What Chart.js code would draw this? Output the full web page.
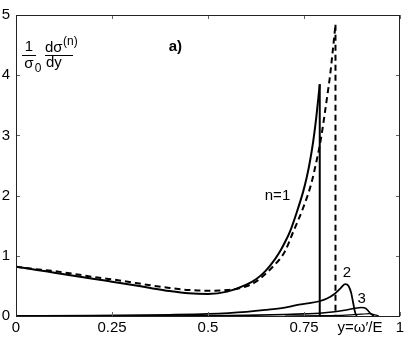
<!DOCTYPE html>
<html>
<head>
<meta charset="utf-8">
<script src="https://cdn.jsdelivr.net/npm/chart.js@4.4.0/dist/chart.umd.min.js"></script>
<style>
html,body{margin:0;padding:0;background:#fff;}
canvas{display:block;}
</style>
</head>
<body>
<canvas id="c" width="410" height="338"></canvas>
<script>
// ---- data ----
const xTicks = [0, 0.25, 0.5, 0.75, 1];
const xTickLabels = ['0', '0.25', '0.5', '0.75', '1'];
const yTicks = [0, 1, 2, 3, 4, 5];

// n=1, solid
const n1X = [0, 0.05, 0.1, 0.15, 0.2, 0.25, 0.3, 0.35, 0.4, 0.45, 0.5, 0.55, 0.6, 0.625, 0.65, 0.675, 0.69, 0.7, 0.714, 0.731, 0.748, 0.757, 0.765, 0.774, 0.782, 0.791];
const n1Y = [0.82, 0.77, 0.72, 0.67, 0.62, 0.57, 0.52, 0.465, 0.415, 0.378, 0.367, 0.405, 0.52, 0.61, 0.75, 0.95, 1.1, 1.22, 1.41, 1.72, 2.07, 2.3, 2.55, 2.9, 3.3, 3.85];
const n1Edge = 0.791;   // vertical cut-off of the n=1 curve
const n1Peak = 3.85;

// n=1 approximation, dashed
const dX = [0, 0.05, 0.1, 0.15, 0.2, 0.25, 0.3, 0.35, 0.4, 0.45, 0.5, 0.55, 0.6, 0.625, 0.65, 0.675, 0.6875, 0.7, 0.722, 0.748, 0.769, 0.78, 0.79, 0.798, 0.806, 0.812, 0.818, 0.824, 0.832];
const dY = [0.82, 0.78, 0.745, 0.70, 0.65, 0.61, 0.56, 0.51, 0.465, 0.432, 0.42, 0.43, 0.495, 0.57, 0.7, 0.86, 0.95, 1.07, 1.4, 1.8, 2.2, 2.5, 2.8, 3.1, 3.45, 3.72, 4.0, 4.35, 4.84];
const dEdge = 0.832;
const dPeak = 4.84;

// n=2
const n2X = [0, 0.2, 0.4, 0.5, 0.6, 0.65, 0.7, 0.73, 0.76, 0.79, 0.81, 0.83, 0.845, 0.857, 0.866, 0.873, 0.878, 0.883, 0.887];
const n2Y = [0, 0.005, 0.02, 0.035, 0.07, 0.1, 0.14, 0.18, 0.21, 0.245, 0.29, 0.37, 0.46, 0.53, 0.5, 0.38, 0.22, 0.06, 0];

// n=3
const n3X = [0, 0.5, 0.6, 0.7, 0.75, 0.79, 0.83, 0.86, 0.88, 0.9, 0.91, 0.918, 0.925, 0.932];
const n3Y = [0, 0.005, 0.01, 0.025, 0.035, 0.045, 0.07, 0.1, 0.125, 0.14, 0.13, 0.08, 0.03, 0];

// n=4
const n4X = [0.7, 0.8, 0.86, 0.9, 0.92, 0.935, 0.945];
const n4Y = [0, 0.005, 0.015, 0.03, 0.038, 0.02, 0];

const toPts = (xs, ys) => xs.map((x, i) => ({x: x, y: ys[i]}));

const FONT = '"Liberation Sans", Arial, Helvetica, sans-serif';

const decor = {
  id: 'decor',
  afterDraw(chart) {
    const ctx = chart.ctx;
    const a = chart.chartArea;
    const xs = chart.scales.x, ys = chart.scales.y;
    ctx.save();
    // inward ticks on all sides
    ctx.strokeStyle = '#666';
    ctx.lineWidth = 1;
    const L = 4;
    ctx.beginPath();
    xTicks.forEach(v => {
      const p = Math.round(xs.getPixelForValue(v)) + 0.5;
      ctx.moveTo(p, a.bottom); ctx.lineTo(p, a.bottom - L);
      ctx.moveTo(p, a.top); ctx.lineTo(p, a.top + L);
    });
    yTicks.forEach(v => {
      const p = Math.round(ys.getPixelForValue(v)) + 0.5;
      ctx.moveTo(a.left, p); ctx.lineTo(a.left + L, p);
      ctx.moveTo(a.right, p); ctx.lineTo(a.right - L, p);
    });
    ctx.stroke();
    // frame
    ctx.strokeStyle = '#222';
    ctx.strokeRect(Math.round(a.left) + 0.5, Math.round(a.top) + 0.5,
                   Math.round(a.right - a.left) - 1, Math.round(a.bottom - a.top));

    ctx.fillStyle = '#000';
    ctx.textBaseline = 'middle';
    // curve labels
    ctx.font = '15px ' + FONT;
    ctx.textAlign = 'center';
    ctx.fillText('n=1', xs.getPixelForValue(0.681), ys.getPixelForValue(1.99));
    ctx.fillText('2', xs.getPixelForValue(0.862), ys.getPixelForValue(0.71));
    ctx.fillText('3', xs.getPixelForValue(0.90), ys.getPixelForValue(0.28));
    // x axis variable
    ctx.fillText('y=\u03C9\u2032/E', xs.getPixelForValue(0.896), a.bottom + 12);
    // panel label
    ctx.font = 'bold 15px ' + FONT;
    ctx.fillText('a)', xs.getPixelForValue(0.415), ys.getPixelForValue(4.47));

    // y-axis label: 1/σ0 dσ^(n)/dy
    const lx = a.left + 7, ly = a.top + 40;
    ctx.font = '15px ' + FONT;
    ctx.textAlign = 'center';
    ctx.textBaseline = 'alphabetic';
    ctx.fillText('1', lx + 6, ly - 4);
    ctx.fillText('\u03C3', lx + 6, ly + 13);
    ctx.font = '12px ' + FONT;
    ctx.fillText('0', lx + 15, ly + 17);
    ctx.font = '15px ' + FONT;
    ctx.textAlign = 'left';
    ctx.fillText('d\u03C3', lx + 22, ly - 3);
    ctx.font = '12px ' + FONT;
    ctx.fillText('(n)', lx + 40, ly - 10);
    ctx.font = '15px ' + FONT;
    ctx.fillText('dy', lx + 23, ly + 12);
    ctx.strokeStyle = '#000';
    ctx.lineWidth = 1;
    ctx.beginPath();
    ctx.moveTo(lx - 1, ly + 0.5); ctx.lineTo(lx + 13, ly + 0.5);
    ctx.moveTo(lx + 22, ly + 0.5); ctx.lineTo(lx + 50, ly + 0.5);
    ctx.stroke();
    ctx.restore();
  }
};

const lineDs = (data, width, dash, smooth) => ({
  data: data,
  showLine: true,
  borderColor: '#000',
  backgroundColor: '#000',
  borderWidth: width,
  borderDash: dash || [],
  pointRadius: 0,
  cubicInterpolationMode: smooth ? 'monotone' : 'default',
  tension: 0,
  fill: false
});

new Chart(document.getElementById('c'), {
  type: 'scatter',
  data: {
    datasets: [
      lineDs(toPts(n4X, n4Y), 1.2, null, true),
      lineDs(toPts(n3X, n3Y), 1.6, null, true),
      lineDs(toPts(n2X, n2Y), 1.8, null, true),
      lineDs(toPts(dX, dY), 2, [6, 4], true),
      lineDs([{x: dEdge, y: dPeak}, {x: dEdge, y: 0}], 2, [6, 4], false),
      lineDs(toPts(n1X, n1Y), 2, null, true),
      lineDs([{x: n1Edge, y: n1Peak}, {x: n1Edge, y: 0}], 2, null, false)
    ]
  },
  options: {
    responsive: false,
    animation: false,
    layout: {padding: {top: 12, right: 10, left: 0, bottom: 0}},
    plugins: {legend: {display: false}, tooltip: {enabled: false}},
    scales: {
      x: {
        type: 'linear', min: 0, max: 1,
        afterBuildTicks: s => { s.ticks = xTicks.map(v => ({value: v})); },
        afterFit: s => { s.height = 22; },
        ticks: {
          autoSkip: false, maxRotation: 0, padding: 3, color: '#000',
          font: {family: FONT, size: 15},
          callback: (v) => xTickLabels[xTicks.indexOf(v)]
        },
        grid: {drawOnChartArea: false, drawTicks: false},
        border: {display: false}
      },
      y: {
        type: 'linear', min: 0, max: 5,
        afterBuildTicks: s => { s.ticks = yTicks.map(v => ({value: v})); },
        afterFit: s => { s.width = 16; },
        ticks: {
          padding: 6, color: '#000',
          font: {family: FONT, size: 15}
        },
        grid: {drawOnChartArea: false, drawTicks: false},
        border: {display: false}
      }
    }
  },
  plugins: [decor]
});
</script>
</body>
</html>
